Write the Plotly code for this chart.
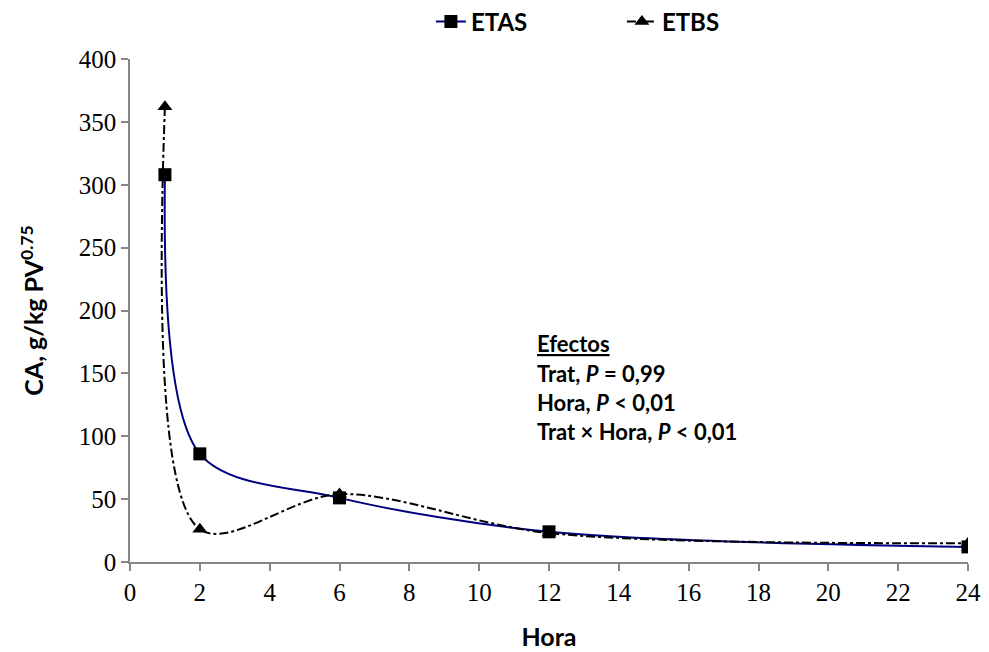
import plotly.graph_objects as go

hora = [1, 2, 6, 12, 24]
etas = [308, 86, 51, 24, 12]
etbs = [362, 26, 54, 23, 15]

x_ticks = list(range(0, 25, 2))
y_ticks = list(range(0, 401, 50))

efectos = [
    "<b><u>Efectos</u></b>",
    "<b>Trat, <i>P</i> = 0,99</b>",
    "<b>Hora, <i>P</i> < 0,01</b>",
    "<b>Trat × Hora, <i>P</i> < 0,01</b>",
]
efectos_y = [174, 150, 127, 104]

fig = go.Figure()
fig.add_trace(go.Scatter(
    x=hora, y=etas, name="<b>ETAS</b>", mode="lines+markers",
    line=dict(color="#000080", width=2, shape="spline", smoothing=0.9),
    marker=dict(symbol="square", size=13, color="black"),
))
fig.add_trace(go.Scatter(
    x=hora, y=etbs, name="<b>ETBS</b>", mode="lines+markers",
    line=dict(color="black", width=2, dash="dashdot", shape="spline", smoothing=0.9),
    marker=dict(symbol="triangle-up", size=13, color="black"),
))

for txt, yy in zip(efectos, efectos_y):
    fig.add_annotation(x=11.6, y=yy, xref="x", yref="y", text=txt, showarrow=False,
                       xanchor="left", yanchor="middle",
                       font=dict(family="Lato", size=22, color="black"))

serif = "Liberation Serif, Times New Roman, serif"
axis_common = dict(
    showgrid=False, zeroline=False, showline=True, linecolor="#868686", linewidth=1.5,
    ticks="outside", ticklen=7, tickcolor="#868686", tickwidth=1.5,
    tickfont=dict(family=serif, size=25, color="black"),
    automargin=False,
)

fig.update_layout(
    width=981, height=644,
    plot_bgcolor="white", paper_bgcolor="white",
    margin=dict(l=122, r=21, t=51, b=90, autoexpand=False),
    xaxis=dict(range=[0, 24], tickvals=x_ticks,
               title=dict(text="<b>Hora</b>", font=dict(family="Lato", size=25, color="black"), standoff=24),
               **axis_common),
    yaxis=dict(range=[0, 400], tickvals=y_ticks,
               title=dict(text="<b>CA, g/kg PV<sup>0.75</sup></b>", font=dict(family="Lato", size=25, color="black"), standoff=28),
               **axis_common),
    legend=dict(orientation="h", x=0.587, xanchor="center", y=1.074, yanchor="middle",
                font=dict(family="Lato", size=24, color="black"), entrywidth=146),
    showlegend=True,
)

fig.write_html("out.html")
